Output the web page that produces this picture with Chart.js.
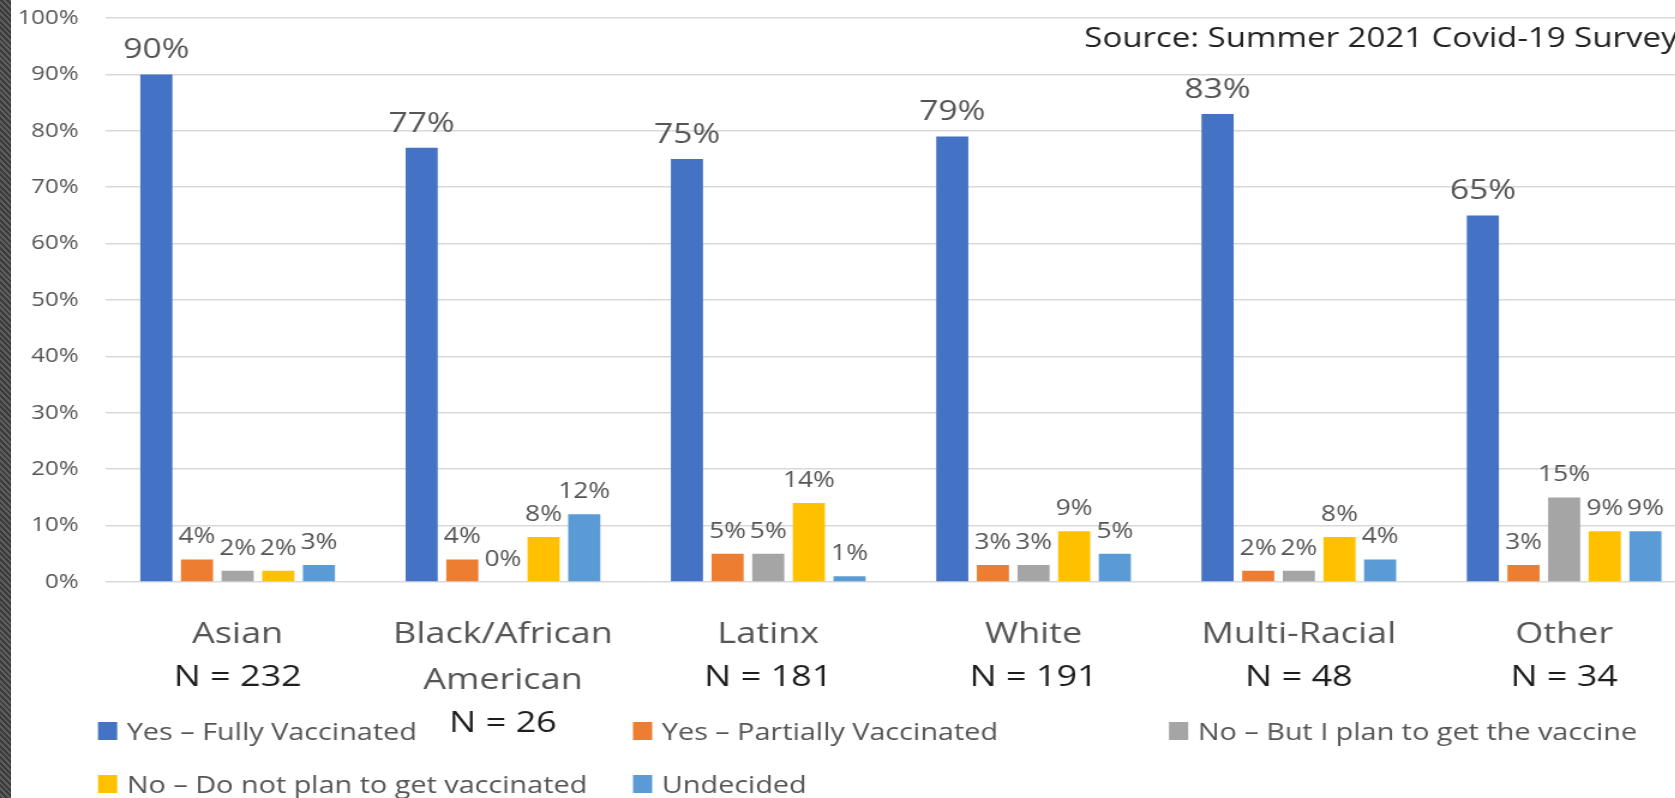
<!DOCTYPE html>
<html>
<head>
<meta charset="utf-8">
<script src="https://cdn.jsdelivr.net/npm/chart.js@4.4.1/dist/chart.umd.min.js"></script>
<style>
  html, body { margin: 0; padding: 0; background: #fff; overflow: hidden; width: 1675px; height: 798px; }
  #strip {
    position: absolute; left: 0; top: 0; width: 11px; height: 798px; z-index: 2;
    background: repeating-linear-gradient(45deg, #3c3c3c 0 2px, #5c5c5c 2px 4px);
  }
  /* the source picture is stretched sideways, so the whole canvas is too */
  #chart { position: absolute; left: 0; top: 0; transform: scaleX(1.2); transform-origin: 0 0; }
</style>
</head>
<body>
<div id="strip"></div>
<canvas id="chart" width="1414" height="798"></canvas>
<script>
const categories = ["Asian", "Black/African American", "Latinx", "White", "Multi-Racial", "Other"];
const categoryLines = [["Asian"], ["Black/African", "American"], ["Latinx"], ["White"], ["Multi-Racial"], ["Other"]];
const sampleSizes = [232, 26, 181, 191, 48, 34];

const seriesNames = [
  "Yes \u2013 Fully Vaccinated",
  "Yes \u2013 Partially Vaccinated",
  "No \u2013 But I plan to get the vaccine",
  "No \u2013 Do not plan to get vaccinated",
  "Undecided"
];
const fullyVaccinated = [90, 77, 75, 79, 83, 65];
const partiallyVaccinated = [4, 4, 5, 3, 2, 3];
const planToGet = [2, 0, 5, 3, 2, 15];
const noPlan = [2, 8, 14, 9, 8, 9];
const undecided = [3, 12, 1, 5, 4, 9];
const seriesColors = ["#4472C4", "#ED7D31", "#A5A5A5", "#FFC000", "#5B9BD5"];

const yMin = 0, yMax = 100, yStep = 10;
const sourceNote = "Source: Summer 2021 Covid-19 Survey";

const FONT = '"Open Sans", "Noto Sans", sans-serif';
const STRETCH = 1.2;

// value labels on top of each bar
const barLabels = {
  id: "barLabels",
  afterDatasetsDraw(chart) {
    const ctx = chart.ctx;
    ctx.save();
    ctx.fillStyle = "#555555";
    ctx.textAlign = "center";
    ctx.textBaseline = "alphabetic";
    chart.data.datasets.forEach((ds, i) => {
      ctx.font = (i === 0 ? 28 : 22) + "px " + FONT;
      chart.getDatasetMeta(i).data.forEach((bar, j) => {
        ctx.fillText(ds.data[j] + "%", bar.x, bar.y - 16);
      });
    });
    ctx.restore();
  }
};

// category names + sample sizes, legend and source note
const extras = {
  id: "extras",
  afterDraw(chart) {
    const ctx = chart.ctx;
    const x = chart.scales.x;
    ctx.save();
    ctx.textAlign = "center";
    ctx.textBaseline = "alphabetic";
    categoryLines.forEach((lines, i) => {
      const cx = x.getPixelForValue(i);
      let y = 643;
      ctx.font = "30px " + FONT;
      ctx.fillStyle = "#555555";
      lines.forEach((t, k) => {
        if (k > 0) y += 46;
        ctx.fillText(t, cx, y);
      });
      ctx.fillStyle = "#1e1e1e";
      ctx.fillText("N = " + sampleSizes[i], cx, y + 43);
    });

    // legend, three columns
    const colX = [98 / STRETCH, 633 / STRETCH, 1169 / STRETCH];
    const rowY = [740, 793];
    ctx.textAlign = "left";
    ctx.font = "24px " + FONT;
    chart.data.datasets.forEach((ds, i) => {
      const lx = colX[i % 3], ly = rowY[Math.floor(i / 3)];
      ctx.fillStyle = ds.backgroundColor;
      ctx.fillRect(lx, ly - 18, 16, 18);
      ctx.fillStyle = "#555555";
      ctx.fillText(ds.label, lx + 24, ly);
    });

    ctx.textAlign = "right";
    ctx.font = "27.5px " + FONT;
    ctx.fillStyle = "#222222";
    ctx.fillText(sourceNote, 1398, 47);
    ctx.restore();
  }
};

const seriesData = [fullyVaccinated, partiallyVaccinated, planToGet, noPlan, undecided];

new Chart(document.getElementById("chart").getContext("2d"), {
  type: "bar",
  data: {
    labels: categories,
    datasets: seriesData.map((d, i) => ({
      label: seriesNames[i],
      data: d,
      backgroundColor: seriesColors[i],
      categoryPercentage: 0.766,
      barPercentage: 0.79
    }))
  },
  options: {
    responsive: false,
    animation: false,
    devicePixelRatio: 1,
    layout: { padding: { top: 18, bottom: 216, left: 0, right: 0 } },
    plugins: { legend: { display: false }, tooltip: { enabled: false } },
    scales: {
      x: { display: false },
      y: {
        min: yMin,
        max: yMax,
        afterFit: (s) => { s.width = 87.5; s.paddingTop = 0; s.paddingBottom = 0; },
        border: { display: false },
        grid: { color: "#d9d9d9", lineWidth: 1.5, drawTicks: false },
        ticks: {
          stepSize: yStep,
          padding: 22,
          color: "#555555",
          font: { family: FONT, size: 20 },
          callback: (v) => v + "%"
        }
      }
    }
  },
  plugins: [barLabels, extras]
});
</script>
</body>
</html>
